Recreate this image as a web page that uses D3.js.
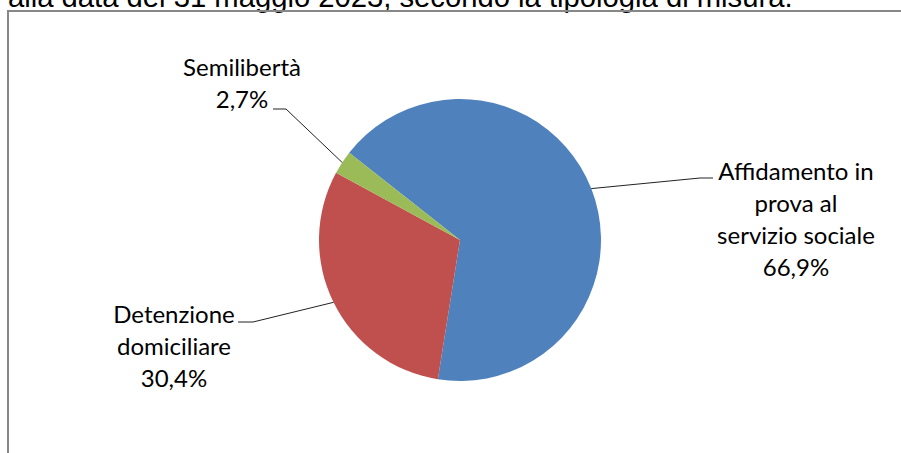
<!DOCTYPE html>
<html>
<head>
<meta charset="utf-8">
<script src="https://cdn.jsdelivr.net/npm/d3@7"></script>
<style>
  html, body { margin: 0; padding: 0; background: #fff; overflow: hidden; }
  svg { display: block; }
</style>
</head>
<body>
<svg id="chart" width="901" height="453"></svg>
<script>
// ---- data ----
const titleText = "alla data del 31 maggio 2023, secondo la tipologia di misura.";
const categories = ["Affidamento in prova al servizio sociale", "Detenzione domiciliare", "Semilibertà"];
const values = [66.9, 30.4, 2.7];
const labelLines = [["Affidamento in", "prova al", "servizio sociale"], ["Detenzione", "domiciliare"], ["Semilibertà"]];
const colors = ["#4F81BD", "#C0504D", "#9BBB59"];

// ---- layout ----
const W = 901, H = 453;
const cx = 460, cy = 240, R = 141;
const startDeg = -51.8;
// label layout: center x, first line center y, elbow (bend) point and end of leader
const labelLayout = [
  { x: 796, y: 172, elbow: [700, 178], end: [713, 178] },
  { x: 174, y: 315, elbow: [253, 322], end: [238, 322] },
  { x: 242, y: 68,  elbow: [286, 109], end: [273, 109] }
];
const lineGap = 32;

const svg = d3.select("#chart");

// title (cut off by top of image, as in the source)
const title = svg.append("text")
  .attr("x", 8).attr("y", 7)
  .attr("font-family", "'Liberation Sans', Arial, sans-serif")
  .attr("font-size", 20)
  .attr("fill", "#000")
  .text(titleText);
const tw = title.node().getComputedTextLength();
title.attr("font-size", 20 * 785 / tw);

// frame
svg.append("rect")
  .attr("x", 8).attr("y", 11)
  .attr("width", W + 20).attr("height", H + 20)
  .attr("fill", "none")
  .attr("stroke", "#878787")
  .attr("stroke-width", 2);

const pie = d3.pie().sort(null)
  .startAngle(startDeg * Math.PI / 180)
  .endAngle(startDeg * Math.PI / 180 + 2 * Math.PI)
  .value(d => d);
const arcs = pie(values);
const arc = d3.arc().innerRadius(0).outerRadius(R);
const edgeArc = d3.arc().innerRadius(R).outerRadius(R);

const g = svg.append("g").attr("transform", `translate(${cx},${cy})`);
g.selectAll("path.slice")
  .data(arcs)
  .join("path")
  .attr("class", "slice")
  .attr("d", arc)
  .attr("fill", (d, i) => colors[i]);

// leader lines
arcs.forEach((d, i) => {
  const c = edgeArc.centroid(d);
  const L = labelLayout[i];
  svg.append("polyline")
    .attr("points", [[cx + c[0], cy + c[1]], L.elbow, L.end].map(p => p.join(",")).join(" "))
    .attr("fill", "none")
    .attr("stroke", "#222")
    .attr("stroke-width", 1);
});

// labels
arcs.forEach((d, i) => {
  const L = labelLayout[i];
  const pct = d3.format(".1f")(values[i]).replace(".", ",") + "%";
  const lines = labelLines[i].concat([pct]);
  const t = svg.append("text")
    .attr("text-anchor", "middle")
    .attr("font-family", "Lato, 'Noto Sans', sans-serif")
    .attr("font-size", 24)
    .attr("fill", "#000");
  lines.forEach((s, j) => {
    t.append("tspan")
      .attr("x", L.x)
      .attr("y", L.y + j * lineGap)
      .attr("dy", "0.35em")
      .text(s);
  });
});
</script>
</body>
</html>
